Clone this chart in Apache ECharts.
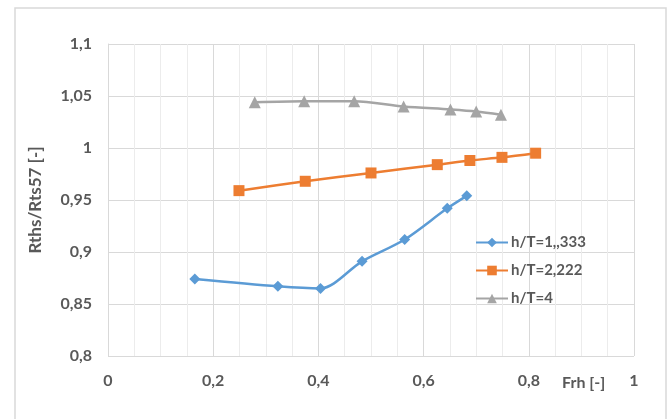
<!DOCTYPE html>
<html><head><meta charset="utf-8">
<script src="https://cdn.jsdelivr.net/npm/echarts@6/dist/echarts.min.js"></script>
<style>html,body{margin:0;padding:0;background:#fff}#c{width:669px;height:419px}</style>
</head><body><div id="c"></div>
<script>
const seriesNames = ['h/T=1,,333', 'h/T=2,222', 'h/T=4'];
const blueX = [0.165, 0.323, 0.404, 0.483, 0.564, 0.645, 0.682];
const blueY = [0.874, 0.867, 0.865, 0.891, 0.912, 0.942, 0.954];
const orangeX = [0.249, 0.375, 0.500, 0.626, 0.688, 0.749, 0.813];
const orangeY = [0.959, 0.968, 0.976, 0.984, 0.988, 0.991, 0.995];
const grayX = [0.279, 0.373, 0.468, 0.562, 0.651, 0.700, 0.747];
const grayY = [1.044, 1.045, 1.045, 1.040, 1.037, 1.035, 1.032];
const xTitle = 'Frh [-]';
const yTitle = 'Rths/Rts57 [-]';

const pairs = (xs, ys) => xs.map((x, i) => [x, ys[i]]);
const fmt = v => String(+(+v).toFixed(2)).replace('.', ',');
const txt = '#595959';
const font = 'Lato, "Liberation Sans", sans-serif';

const chart = echarts.init(document.getElementById('c'), null, {renderer: 'canvas'});
const mk = (name, data, color, symbol, size) => ({
  name, type: 'line', data, smooth: 0.3,
  symbol, symbolSize: size,
  lineStyle: {color, width: 2.5},
  itemStyle: {color},
  emphasis: {disabled: true}
});
chart.setOption({
  animation: false,
  textStyle: {fontFamily: font},
  graphic: [
    {type: 'rect', shape: {x: 15, y: 8, width: 651, height: 430}, style: {fill: 'none', stroke: '#d9d9d9', lineWidth: 1.5}, silent: true},
    {type: 'text', left: 562, top: 375, style: {text: xTitle, fill: txt, font: 'bold 16px ' + font}}
  ],
  grid: {left: 108, right: 35, top: 44, bottom: 63},
  xAxis: {
    type: 'value', min: 0, max: 1, interval: 0.2,
    axisLine: {show: false}, axisTick: {show: false},
    axisLabel: {formatter: fmt, color: txt, fontWeight: 'bold', fontSize: 16, margin: 17, fontFamily: font},
    splitLine: {show: true, lineStyle: {color: '#d9d9d9', width: 1}},
    minorTick: {show: false, splitNumber: 4},
    minorSplitLine: {show: true, lineStyle: {color: '#ececec', width: 1}}
  },
  yAxis: {
    type: 'value', min: 0.8, max: 1.1, interval: 0.05,
    name: yTitle, nameLocation: 'middle', nameGap: 64, nameRotate: 90,
    nameTextStyle: {color: txt, fontWeight: 'bold', fontSize: 17, fontFamily: font},
    axisLine: {show: true, lineStyle: {color: '#d9d9d9'}}, axisTick: {show: false},
    axisLabel: {formatter: fmt, color: txt, fontWeight: 'bold', fontSize: 16, margin: 16, fontFamily: font},
    splitLine: {show: true, lineStyle: {color: '#d9d9d9', width: 1}}
  },
  legend: {
    orient: 'vertical', left: 470, top: 230, itemGap: 13,
    itemWidth: 32, itemHeight: 12,
    data: seriesNames,
    textStyle: {color: txt, fontWeight: 'bold', fontSize: 15, fontFamily: font, padding: [0, 0, 0, -2]}
  },
  series: [
    mk(seriesNames[0], pairs(blueX, blueY), '#5B9BD5', 'diamond', 11),
    mk(seriesNames[1], pairs(orangeX, orangeY), '#ED7D31', 'rect', 11),
    mk(seriesNames[2], pairs(grayX, grayY), '#A5A5A5', 'triangle', 12)
  ]
});
</script></body></html>
